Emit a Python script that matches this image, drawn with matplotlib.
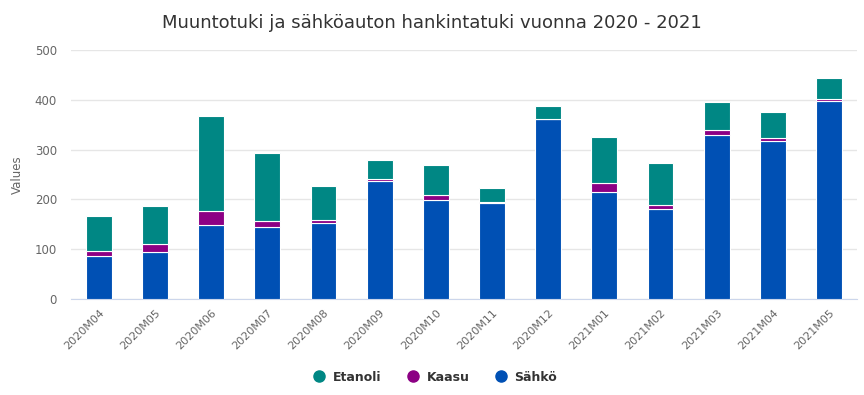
import matplotlib.pyplot as plt
import numpy as np

months = ['2020M04', '2020M05', '2020M06', '2020M07', '2020M08', '2020M09', '2020M10',
          '2020M11', '2020M12', '2021M01', '2021M02', '2021M03', '2021M04', '2021M05']
sahko = [87, 95, 149, 145, 153, 237, 199, 193, 361, 215, 181, 329, 317, 397]
kaasu = [10, 16, 27, 11, 5, 5, 9, 1, 1, 18, 7, 11, 7, 5]
etanoli = [70, 76, 191, 137, 69, 37, 61, 29, 25, 92, 85, 55, 51, 43]

c_sahko = '#0050b4'
c_kaasu = '#8c0084'
c_etanoli = '#008784'

fig = plt.figure(figsize=(8.64, 3.95), dpi=100)
ax = fig.add_axes([0.082, 0.243, 0.91, 0.63])

x = np.arange(len(months))
w = 0.46
sahko = np.array(sahko)
kaasu = np.array(kaasu)
etanoli = np.array(etanoli)
ax.bar(x, sahko, w, color=c_sahko, edgecolor='white', linewidth=0.8, label='Sähkö', zorder=3)
ax.bar(x, kaasu, w, bottom=sahko, color=c_kaasu, edgecolor='white', linewidth=0.8, label='Kaasu', zorder=3)
ax.bar(x, etanoli, w, bottom=sahko + kaasu, color=c_etanoli, edgecolor='white', linewidth=0.8,
       label='Etanoli', zorder=3)

ax.set_xlim(-0.5, len(months) - 0.5)
ax.set_ylim(0, 500)
ax.set_yticks([0, 100, 200, 300, 400, 500])
ax.grid(axis='y', color='#e6e6e6', linewidth=1, zorder=0)
ax.set_xticks(x)
ax.set_xticklabels(months, rotation=45, ha='right', rotation_mode='anchor', fontsize=8, color='#666666')
ax.tick_params(axis='y', labelsize=8.5, colors='#666666', length=0, pad=10)
ax.tick_params(axis='x', length=0, pad=6)
for s in ['top', 'right', 'left']:
    ax.spines[s].set_visible(False)
ax.spines['bottom'].set_color('#ccd6eb')
ax.set_ylabel('Values', fontsize=8.5, color='#666666', labelpad=8)

fig.suptitle('Muuntotuki ja sähköauton hankintatuki vuonna 2020 - 2021', fontsize=13, color='#333333', y=0.965)

handles = [plt.Line2D([], [], marker='o', linestyle='', markersize=8, color=c)
           for c in [c_etanoli, c_kaasu, c_sahko]]
fig.legend(handles, ['Etanoli', 'Kaasu', 'Sähkö'], loc='center', bbox_to_anchor=(0.5, 0.045),
           ncol=3, frameon=False, handletextpad=0.1, columnspacing=1.5,
           prop={'size': 9, 'weight': 'bold'}, labelcolor='#333333')

fig.savefig('out.png', dpi=100)
